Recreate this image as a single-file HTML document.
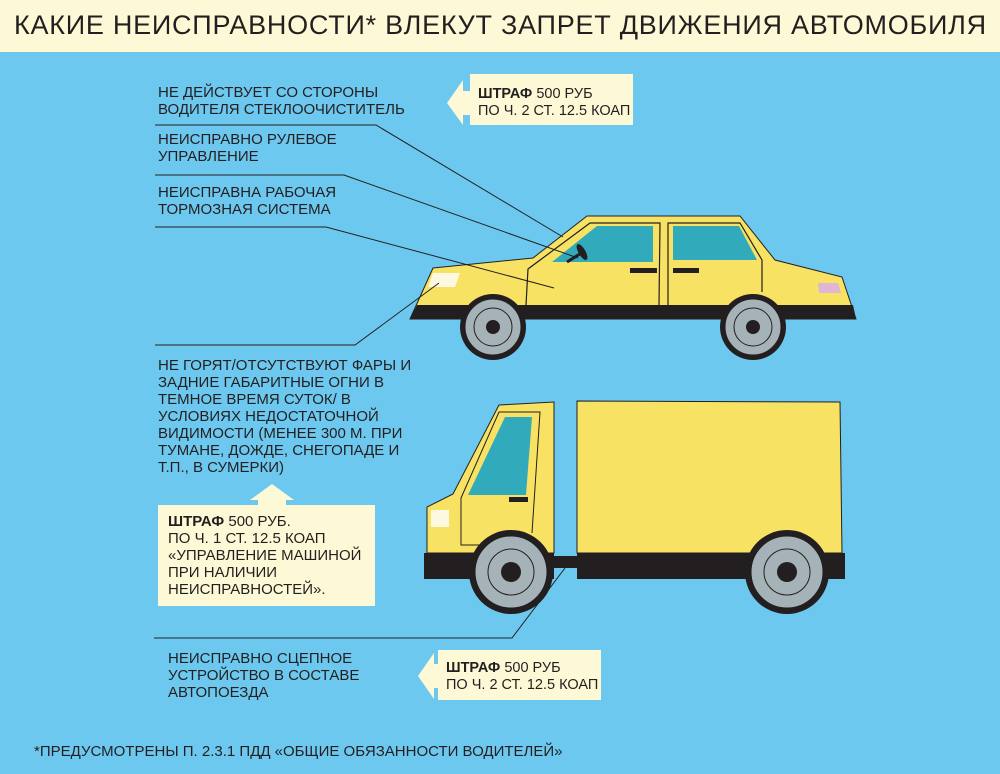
<!DOCTYPE html>
<html><head><meta charset="utf-8"><style>
html,body{margin:0;padding:0}
body{width:1000px;height:774px;background:#6dc8ef;position:relative;overflow:hidden;font-family:"Liberation Sans",sans-serif;color:#231f20}
.hdr{position:absolute;left:0;top:0;width:1000px;height:52px;background:#fdf9d6}
.hdr div{position:absolute;left:14px;top:10px;font-size:27px;letter-spacing:0.75px;white-space:nowrap}
.t{position:absolute;font-size:15px;line-height:17px;white-space:nowrap}
.s{font-size:14.5px}
.box{position:absolute;background:#fdf9d6}
b{font-weight:bold}
svg{position:absolute;left:0;top:0}
</style></head><body>
<div class="hdr"><div>КАКИЕ НЕИСПРАВНОСТИ* ВЛЕКУТ ЗАПРЕТ ДВИЖЕНИЯ АВТОМОБИЛЯ</div></div>
<svg width="1000" height="774" viewBox="0 0 1000 774">
<polygon points="447,103 463,80 463,91 470,91 470,115 463,115 463,125" fill="#fdf9d6"/>
<polygon points="272,484 250,500 258,500 258,505 286,505 286,500 294,500" fill="#fdf9d6"/>
<polygon points="418,676 434,653 434,664 438,664 438,688 434,688 434,699" fill="#fdf9d6"/>
<g stroke="#231f20" stroke-width="1">
<polygon points="433,268 533,258 587,216 740,216 775,260 842,277 856,319 410,319" fill="#f8e263"/>
</g>
<polygon points="417,305 853,305 856,319 410,319" fill="#231f20"/>
<circle cx="493" cy="327" r="33" fill="#231f20"/>
<circle cx="753" cy="327" r="33" fill="#231f20"/>
<polygon points="552,262 597,226 653,226 653,262" fill="#31abbb"/>
<polygon points="673,226 739,226 757,260 673,260" fill="#31abbb"/>
<g fill="none" stroke="#231f20" stroke-width="1.2">
<polyline points="526,305 528,269 590,223 660,223 659,305"/>
<polyline points="668,305 668,223 740,223 762,260 762,292"/>
</g>
<rect x="630" y="268" width="27" height="5" fill="#231f20"/>
<rect x="673" y="268" width="26" height="5" fill="#231f20"/>
<polygon points="433,273 460,273 455,287 428,287" fill="#fdf9e0"/>
<polygon points="818,283 838,283 841,293 819,293" fill="#e0b6d6"/>
<line x1="567" y1="262" x2="583" y2="252" stroke="#231f20" stroke-width="3"/>
<ellipse cx="582" cy="252" rx="3.5" ry="9" transform="rotate(-30 582 252)" fill="#231f20"/>
<g stroke="#231f20" stroke-width="1">
<circle cx="493" cy="327" r="28" fill="#a5b3b8"/>
<circle cx="493" cy="327" r="19" fill="none"/>
<circle cx="753" cy="327" r="28" fill="#a5b3b8"/>
<circle cx="753" cy="327" r="19" fill="none"/>
</g>
<circle cx="493" cy="327" r="7" fill="#231f20"/>
<circle cx="753" cy="327" r="7" fill="#231f20"/>
<g stroke="#231f20" stroke-width="1">
<polygon points="499,405 554,402 554,553 427,553 427,507 453,494" fill="#f8e263"/>
<polygon points="577,401 840,402 842,553 577,553" fill="#f8e263"/>
</g>
<polygon points="505,417 532,417 526,495 468,495" fill="#31abbb"/>
<polyline points="532,533 540,412 499,412 461,498 461,545 480,545" fill="none" stroke="#231f20" stroke-width="1"/>
<rect x="509" y="497" width="19" height="5" fill="#231f20"/>
<rect x="431" y="510" width="18" height="17" fill="#fdf9e0"/>
<rect x="424" y="553" width="130" height="26" fill="#231f20"/>
<rect x="554" y="556" width="23" height="12" fill="#231f20"/>
<rect x="577" y="553" width="268" height="26" fill="#231f20"/>
<circle cx="511" cy="572" r="42" fill="#231f20"/>
<circle cx="787" cy="572" r="42" fill="#231f20"/>
<g stroke="#231f20" stroke-width="1">
<circle cx="511" cy="572" r="36" fill="#a5b3b8"/>
<circle cx="511" cy="572" r="23" fill="none"/>
<circle cx="787" cy="572" r="36" fill="#a5b3b8"/>
<circle cx="787" cy="572" r="23" fill="none"/>
</g>
<circle cx="511" cy="572" r="10" fill="#231f20"/>
<circle cx="787" cy="572" r="10" fill="#231f20"/>
<g fill="none" stroke="#231f20" stroke-width="1">
<polyline points="155,125 376,125 563,237"/>
<polyline points="155,175 344,175 578,258"/>
<polyline points="155,227 326,227 554,288"/>
<polyline points="155,345 355,345 439,283"/>
<polyline points="154,638 512,638 565,568"/>
</g>
</svg>
<div class="t" style="left:158px;top:84px">НЕ ДЕЙСТВУЕТ СО СТОРОНЫ<br>ВОДИТЕЛЯ СТЕКЛООЧИСТИТЕЛЬ</div>
<div class="t" style="left:158px;top:131px">НЕИСПРАВНО РУЛЕВОЕ<br>УПРАВЛЕНИЕ</div>
<div class="t" style="left:158px;top:184px">НЕИСПРАВНА РАБОЧАЯ<br>ТОРМОЗНАЯ СИСТЕМА</div>
<div class="t" style="left:158px;top:357px">НЕ ГОРЯТ/ОТСУТСТВУЮТ ФАРЫ И<br>ЗАДНИЕ ГАБАРИТНЫЕ ОГНИ В<br>ТЕМНОЕ ВРЕМЯ СУТОК/ В<br>УСЛОВИЯХ НЕДОСТАТОЧНОЙ<br>ВИДИМОСТИ (МЕНЕЕ 300 М. ПРИ<br>ТУМАНЕ, ДОЖДЕ, СНЕГОПАДЕ И<br>Т.П., В СУМЕРКИ)</div>
<div class="box" style="left:470px;top:74px;width:163px;height:51px"></div>
<div class="t s" style="left:478px;top:86px"><b>ШТРАФ</b> 500 РУБ<br>ПО Ч. 2 СТ. 12.5 КОАП</div>
<div class="box" style="left:158px;top:505px;width:217px;height:101px"></div>
<div class="t" style="left:168px;top:513px"><b>ШТРАФ</b> 500 РУБ.<br>ПО Ч. 1 СТ. 12.5 КОАП<br>«УПРАВЛЕНИЕ МАШИНОЙ<br>ПРИ НАЛИЧИИ<br>НЕИСПРАВНОСТЕЙ».</div>
<div class="t" style="left:168px;top:650px">НЕИСПРАВНО СЦЕПНОЕ<br>УСТРОЙСТВО В СОСТАВЕ<br>АВТОПОЕЗДА</div>
<div class="box" style="left:438px;top:650px;width:163px;height:50px"></div>
<div class="t s" style="left:446px;top:660px"><b>ШТРАФ</b> 500 РУБ<br>ПО Ч. 2 СТ. 12.5 КОАП</div>
<div class="t" style="left:34px;top:743px">*ПРЕДУСМОТРЕНЫ П. 2.3.1 ПДД «ОБЩИЕ ОБЯЗАННОСТИ ВОДИТЕЛЕЙ»</div>
</body></html>
